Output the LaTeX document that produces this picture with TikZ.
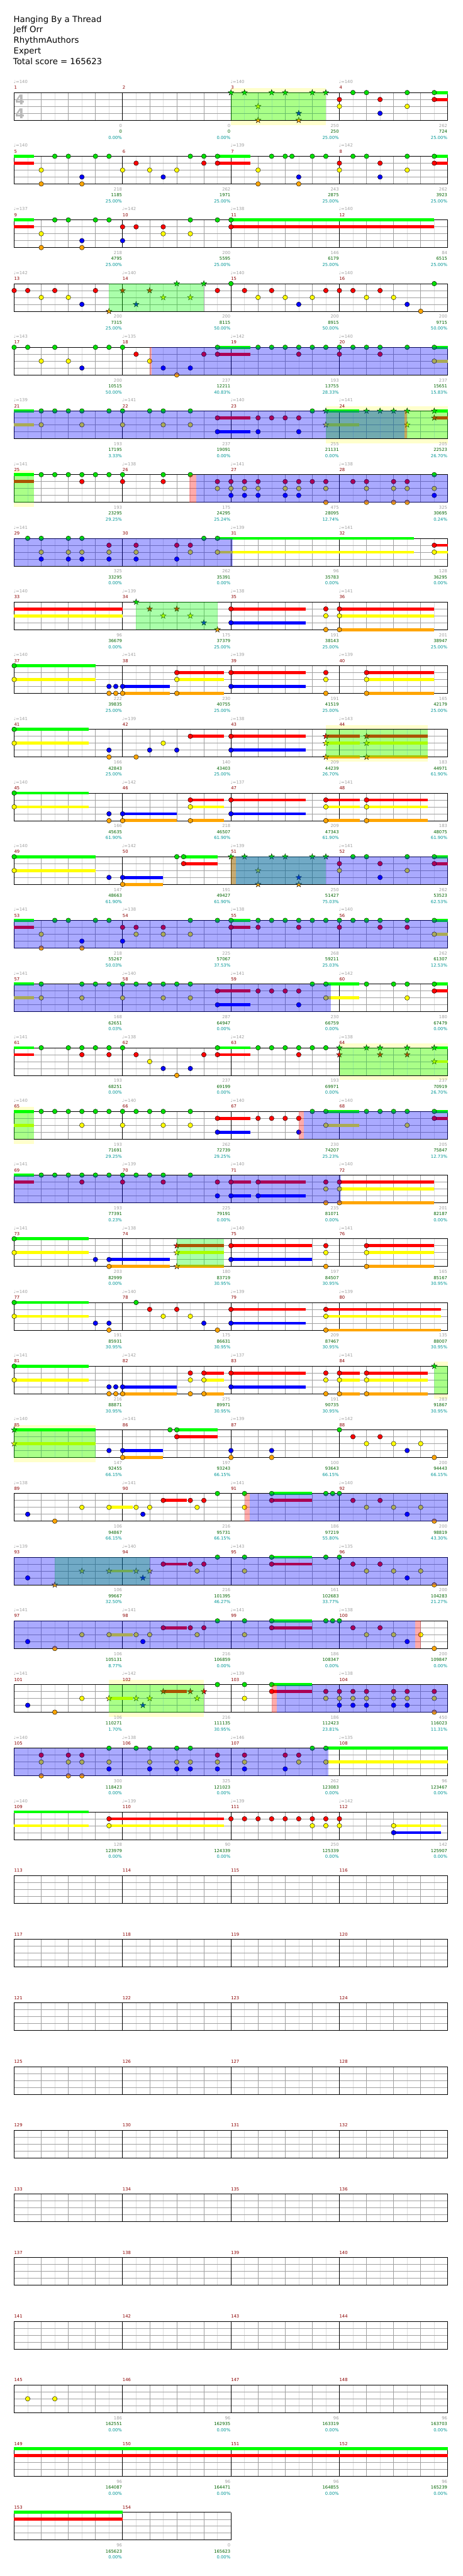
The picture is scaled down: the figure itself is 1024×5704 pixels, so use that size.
\documentclass[tikz,border=0pt]{standalone}
\usepackage{fontspec}
\setmainfont{DejaVu Sans}
\definecolor{lane0}{RGB}{0,224,0}
\definecolor{lane1}{RGB}{255,0,0}
\definecolor{lane2}{RGB}{255,255,0}
\definecolor{lane3}{RGB}{0,0,255}
\definecolor{lane4}{RGB}{255,165,0}
\definecolor{sus0}{RGB}{0,255,0}
\definecolor{sus1}{RGB}{255,0,0}
\definecolor{sus2}{RGB}{255,255,0}
\definecolor{sus3}{RGB}{0,0,255}
\definecolor{sus4}{RGB}{255,165,0}
\definecolor{lgray}{RGB}{222,222,222}
\definecolor{mgray}{RGB}{160,160,160}
\definecolor{tgray}{RGB}{160,160,160}
\definecolor{mnum}{RGB}{140,0,0}
\definecolor{sgreen}{RGB}{0,100,0}
\definecolor{spct}{RGB}{0,150,150}
\definecolor{ybg}{RGB}{255,255,204}
\definecolor{tsig}{RGB}{185,185,185}
\def\pmode{0}
\newcommand\setmp[2]{\pgfmathtruncatemacro\rw{(#1-1)/4}\pgfmathtruncatemacro\cl{#1-1-4*\rw}\pgfmathsetmacro\xx{31.3+240*\cl+15*(#2)}\pgfmathsetmacro\yt{205+141*\rw}}
\newcommand\nN[3]{\ifnum\pmode=4\relax\setmp{#1}{#2}\foreach \lane in {#3}{\filldraw[fill=lane\lane,draw=black,line width=0.6] (\xx,\yt+15.3*\lane) circle[radius=5.2];}\fi}
\newcommand\nS[3]{\ifnum\pmode=4\relax\setmp{#1}{#2}\foreach \lane in {#3}{\filldraw[fill=lane\lane,draw=black,line width=0.5,shift={(\xx,\yt+15.3*\lane)}] (0,-6.8)--(1.55,-2.1)--(6.5,-2.1)--(2.5,0.8)--(4,5.5)--(0,2.6)--(-4,5.5)--(-2.5,0.8)--(-6.5,-2.1)--(-1.55,-2.1)--cycle;}\fi}
\newcommand\nL[4]{\ifnum\pmode=3\relax\setmp{#1}{#2}\foreach \lane in {#4}{\fill[sus\lane] (\xx,\yt+15.3*\lane-3.4) rectangle ++(15*#3,6.8);}\fi}
\newcommand\ovl[6]{\ifnum\pmode=#1\relax\setmp{#3}{#4}\let\xa\xx\setmp{#5}{#6}\fill[#2,fill opacity=0.333] (\xa,\yt) rectangle (\xx,\yt+61.3);\fi}
\newcommand\oG[4]{\ovl{5}{green}{#1}{#2}{#3}{#4}}
\newcommand\oR[4]{\ovl{6}{red}{#1}{#2}{#3}{#4}}
\newcommand\oB[4]{\ovl{7}{blue}{#1}{#2}{#3}{#4}}
\newcommand\oY[4]{\ifnum\pmode=1\relax\setmp{#1}{#2}\let\xa\xx\setmp{#3}{#4}\fill[ybg] (\xa,\yt-10) rectangle (\xx,\yt+71.7);\fi}
\newcommand\meas[5]{\ifnum\pmode=2\relax\setmp{#1}{0}%
\foreach \k in {30,90,150,210}{\draw[lgray,line width=0.8] (\xx+\k,\yt) -- (\xx+\k,\yt+61.3);}%
\foreach \k in {60,120,180}{\draw[mgray,line width=0.8] (\xx+\k,\yt) -- (\xx+\k,\yt+61.3);}%
\foreach \k in {1,2,3}{\draw[mgray,line width=0.8] (\xx,\yt+15.3*\k) -- (\xx+240,\yt+15.3*\k);}%
\draw[line width=1] (\xx,\yt) -- (\xx+240,\yt) (\xx,\yt+61.3) -- (\xx+240,\yt+61.3) (\xx,\yt) -- (\xx,\yt+61.3) (\xx+240,\yt) -- (\xx+240,\yt+61.3);%
\fi
\ifnum\pmode=8\relax\setmp{#1}{0}%
\node[text=mnum,anchor=base west] (mn#1) at (\xx,\yt-7.5) {#1};%
\if\relax\detokenize{#2}\relax\else\node[text=tgray,anchor=base west] (tp#1) at (\xx-1,\yt-20.5) {♩=#2};\fi
\node[text=tgray,anchor=base east] (sa#1) at (\xx+239,\yt+76.5) {#3};%
\node[text=sgreen,anchor=base east] (sb#1) at (\xx+239,\yt+89.5) {#4};%
\node[text=spct,anchor=base east] (sc#1) at (\xx+239,\yt+103) {#5};\fi}
\newcommand\pA[1]{\nN{#1}{0}{1,2}\nN{#1}{2}{0}\nN{#1}{4}{0}\nN{#1}{6}{1,3}\nN{#1}{10}{0,2}\nN{#1}{14}{0,1}\nL{#1}{14}{2}{0,1}}
\newcommand\pB[1]{\nL{#1}{0}{2.9}{0,1}\nN{#1}{4}{2,4}\nN{#1}{6}{0}\nN{#1}{8}{0}\nN{#1}{10}{3,4}\nN{#1}{12}{0}\nN{#1}{14}{0}}
\newcommand\pS[1]{\nS{#1}{0}{0}\nS{#1}{2}{0}\nS{#1}{4}{2,4}\nS{#1}{6}{0}\nS{#1}{8}{0}\nS{#1}{10}{3,4}\nS{#1}{12}{0}\nS{#1}{14}{0}}
\newcommand\pC[1]{\nN{#1}{0}{0}\nN{#1}{2}{1}\nN{#1}{4}{2}\nN{#1}{6}{1}\nN{#1}{8}{2}\nN{#1}{10}{3}\nN{#1}{12}{2}\nN{#1}{14}{4}}
\newcommand\pD[1]{\nN{#1}{2}{2}\nN{#1}{3}{3}\nN{#1}{4}{2}\nL{#1}{6}{3.5}{1}\nN{#1}{6}{1}\nN{#1}{10}{1}\nN{#1}{11}{2}\nN{#1}{12}{1}\nN{#1}{14}{0}}
\newcommand\pE[1]{\nN{#1}{2}{3}\nN{#1}{6}{4}\nN{#1}{10}{2}\nN{#1}{14}{2}\nL{#1}{14}{3.5}{2}}
\newcommand\songdata{%
% row 0
\meas{1}{140}{0}{0}{0.00\%}\meas{2}{}{0}{0}{0.00\%}\meas{3}{140}{250}{250}{25.00\%}\meas{4}{140}{262}{724}{25.00\%}
\oY{3}{0}{3}{14}\oG{3}{0}{3}{14}\pS{3}\pA{4}
% row 1
\meas{5}{140}{218}{1185}{25.00\%}\meas{6}{}{262}{1971}{25.00\%}\meas{7}{139}{243}{2875}{25.00\%}\meas{8}{142}{262}{3923}{25.00\%}
\pB{5}
\nN{6}{0}{2}\nN{6}{2}{1}\nN{6}{4}{2}\nN{6}{6}{3}\nN{6}{8}{2}\nN{6}{10}{0}\nN{6}{12}{0,1}\nN{6}{14}{0,1}\nL{6}{14}{4.9}{0,1}
\nN{7}{4}{2,4}\nN{7}{6}{0}\nN{7}{8}{0}\nN{7}{9}{0}\nN{7}{10}{3,4}\nN{7}{12}{0}\nN{7}{14}{0}
\pA{8}
% row 2
\meas{9}{137}{218}{4795}{25.00\%}\meas{10}{142}{200}{5595}{25.00\%}\meas{11}{138}{146}{6179}{25.00\%}\meas{12}{140}{84}{6515}{25.00\%}
\pB{9}
\nN{10}{0}{1,3}\nN{10}{2}{1}\nN{10}{6}{1,2}\nN{10}{10}{0,2}\nN{10}{14}{0}
\nN{11}{0}{0,1}\nL{11}{0}{30}{0,1}
% row 3
\meas{13}{142}{200}{7315}{25.00\%}\meas{14}{140}{200}{8115}{50.00\%}\meas{15}{140}{200}{8915}{50.00\%}\meas{16}{140}{200}{9715}{50.00\%}
\oG{13}{14}{14}{12}
\nN{13}{0}{1}\nN{13}{2}{1}\nN{13}{4}{2}\nN{13}{6}{1}\nN{13}{8}{2}\nN{13}{10}{3}\nN{13}{12}{1}\nS{13}{14}{4}
\nS{14}{0}{1}\nS{14}{2}{3}\nS{14}{4}{1}\nS{14}{6}{2}\nS{14}{8}{0}\nS{14}{10}{2}\nS{14}{12}{0}\nN{14}{14}{1}
\nN{15}{0}{0}\nN{15}{2}{1}\nN{15}{4}{2}\nN{15}{6}{1}\nN{15}{8}{2}\nN{15}{10}{3}\nN{15}{12}{2}\nN{15}{14}{1}
\nN{16}{0}{1}\nN{16}{2}{1}\nN{16}{4}{2}\nN{16}{6}{1}\nN{16}{8}{2}\nN{16}{10}{3}\nN{16}{12}{4}\nN{16}{14}{0}
% row 4
\meas{17}{143}{200}{10515}{50.00\%}\meas{18}{135}{237}{12211}{40.83\%}\meas{19}{142}{193}{13755}{28.33\%}\meas{20}{140}{237}{15651}{15.83\%}
\oR{18}{4}{18}{4.25}\oB{18}{4.25}{20}{16}
\nN{17}{0}{0}\nN{17}{2}{0}\nN{17}{4}{2}\nN{17}{6}{0}\nN{17}{8}{2}\nN{17}{10}{3}\nN{17}{12}{0}\nN{17}{14}{0}
\nN{18}{0}{0}\nN{18}{2}{1}\nN{18}{4}{2}\nN{18}{6}{3}\nN{18}{8}{4}\nN{18}{10}{3}\nN{18}{12}{1}\nN{18}{14}{0,1}\nL{18}{14}{4.9}{0,1}
\nN{19}{4}{0}\nN{19}{6}{0}\nN{19}{8}{0}\nN{19}{10}{0,1}\nN{19}{12}{0}\nN{19}{14}{0}
\nN{20}{0}{0,1}\nN{20}{2}{0}\nN{20}{4}{0}\nN{20}{6}{0,1}\nN{20}{10}{0}\nN{20}{14}{0,2}\nL{20}{14}{2}{0,2}
% row 5
\meas{21}{139}{193}{17195}{3.33\%}\meas{22}{141}{237}{19091}{0.00\%}\meas{23}{140}{255}{21131}{0.00\%}\meas{24}{141}{205}{22523}{26.70\%}
\oB{21}{0}{24}{9.65}\oR{24}{9.65}{24}{10}\oG{23}{14}{24}{16}\oY{23}{14}{24}{16}
\nL{21}{0}{2.9}{0,2}\nN{21}{4}{0,2}\nN{21}{6}{0}\nN{21}{8}{0}\nN{21}{10}{0,2}\nN{21}{14}{0}
\nN{22}{0}{0,2}\nN{22}{4}{0}\nN{22}{6}{0,2}\nN{22}{10}{0,2}\nN{22}{14}{1,3}\nL{22}{14}{4.9}{1,3}
\nN{23}{4}{1,3}\nN{23}{6}{1}\nN{23}{8}{1}\nN{23}{10}{1,3}\nN{23}{12}{0}\nS{23}{14}{0,2}\nL{23}{14}{4.9}{0,2}
\nS{24}{4}{0}\nS{24}{6}{0}\nS{24}{8}{0}\nS{24}{10}{0,2}\nS{24}{14}{0,1}\nL{24}{14}{2}{0,1}
% row 6
\meas{25}{141}{193}{23295}{29.25\%}\meas{26}{138}{175}{24295}{25.24\%}\meas{27}{141}{475}{28095}{12.74\%}\meas{28}{138}{325}{30695}{0.24\%}
\oY{25}{0}{25}{2.9}\oG{25}{0}{25}{2.9}\oR{26}{9.9}{26}{10.9}\oB{26}{10.9}{28}{16}
\nL{25}{0}{2.9}{0,1}\nN{25}{4}{0}\nN{25}{6}{0}\nN{25}{8}{0}\nN{25}{10}{0,1}\nN{25}{12}{0}\nN{25}{14}{0}
\nN{26}{0}{0,1}\nN{26}{6}{0,1}\nN{26}{10}{0}\nN{26}{14}{1,2}
\nN{27}{0}{1,2,3}\nN{27}{2}{1,2,3}\nN{27}{4}{1,2,3}\nN{27}{8}{1,2,3}\nN{27}{10}{1,2,3}\nN{27}{12}{1}\nN{27}{14}{1,2,4}
\nN{28}{2}{1}\nN{28}{4}{1,2,4}\nN{28}{8}{1,2,4}\nN{28}{10}{1,2,4}\nN{28}{14}{0,2,3}
% row 7
\meas{29}{141}{325}{33295}{0.00\%}\meas{30}{}{262}{35391}{0.00\%}\meas{31}{139}{96}{35783}{0.00\%}\meas{32}{141}{128}{36295}{0.00\%}
\oB{29}{0}{31}{0.25}
\nN{29}{2}{0}\nN{29}{4}{0,2,3}\nN{29}{8}{0,2,3}\nN{29}{10}{0,2,3}\nN{29}{14}{1,2,3}
\nN{30}{2}{1,2,3}\nN{30}{8}{1,3}\nN{30}{10}{1,2}\nN{30}{12}{0}\nN{30}{14}{0,2}\nL{30}{14}{29}{0,2}
\nN{32}{14}{1,2}\nL{32}{14}{2}{1,2}
% row 8
\meas{33}{140}{96}{36679}{0.00\%}\meas{34}{139}{175}{37379}{25.00\%}\meas{35}{138}{191}{38143}{25.00\%}\meas{36}{141}{201}{38947}{25.00\%}
\nL{33}{0}{16}{1,2}
\oG{34}{2}{34}{14}
\nS{34}{2}{0}\nS{34}{4}{1}\nS{34}{6}{2}\nS{34}{8}{1}\nS{34}{10}{2}\nS{34}{12}{3}\nS{34}{14}{4}
\nN{35}{0}{1,3}\nL{35}{0}{11}{1,3}\nN{35}{14}{1,2,4}
\nN{36}{0}{1,2,4}\nL{36}{0}{14}{1,2,4}
% row 9
\meas{37}{140}{222}{39835}{25.00\%}\meas{38}{141}{230}{40755}{25.00\%}\meas{39}{139}{191}{41519}{25.00\%}\meas{40}{139}{165}{42179}{25.00\%}
\nN{37}{0}{0,2}\nL{37}{0}{12}{0,2}\nN{37}{14}{3,4}\nN{37}{15}{3,4}
\nN{38}{0}{3,4}\nL{38}{0}{7}{3,4}\nN{38}{8}{1,2,4}\nL{38}{8}{7}{1,2,4}
\nN{39}{0}{1,3}\nL{39}{0}{11}{1,3}\nN{39}{14}{1,2,4}
\nN{40}{4}{1,2,4}\nL{40}{4}{10}{1,2,4}
% row 10
\meas{41}{141}{166}{42843}{25.00\%}\meas{42}{139}{140}{43403}{25.00\%}\meas{43}{138}{209}{44239}{26.70\%}\meas{44}{143}{183}{44971}{61.90\%}
\oG{43}{14}{44}{13}\oY{43}{14}{44}{13}
\nN{41}{0}{0,2}\nL{41}{0}{11}{0,2}\nN{41}{14}{3,4}
\nN{42}{2}{4}\nN{42}{4}{3}\nN{42}{6}{2}\nN{42}{8}{3}\nN{42}{10}{1}\nL{42}{10}{5}{1}
\nN{43}{0}{1,3}\nL{43}{0}{11}{1,3}\nS{43}{14}{1,2,4}\nL{43}{14}{5}{1,2,4}
\nS{44}{4}{1,2,4}\nL{44}{4}{9}{1,2,4}
% row 11
\meas{45}{140}{166}{45635}{61.90\%}\meas{46}{142}{218}{46507}{61.90\%}\meas{47}{137}{209}{47343}{61.90\%}\meas{48}{141}{183}{48075}{61.90\%}
\nN{45}{0}{0,2}\nL{45}{0}{11}{0,2}\nN{45}{14}{3,4}
\nN{46}{0}{3,4}\nL{46}{0}{8}{3,4}\nN{46}{10}{1,2,4}\nL{46}{10}{5}{1,2,4}
\nN{47}{0}{1,3}\nL{47}{0}{11}{1,3}\nN{47}{14}{1,2,4}\nL{47}{14}{5}{1,2,4}
\nN{48}{4}{1,2,4}\nL{48}{4}{9}{1,2,4}
% row 12
\meas{49}{140}{147}{48663}{61.90\%}\meas{50}{142}{191}{49427}{61.90\%}\meas{51}{139}{250}{51427}{75.03\%}\meas{52}{141}{262}{53523}{62.53\%}
\oG{51}{0}{51}{14}\oR{51}{0}{51}{0.75}\oB{51}{0.75}{52}{16}
\nN{49}{0}{0,2}\nL{49}{0}{12}{0,2}\nN{49}{14}{3}
\nN{50}{0}{3,4}\nL{50}{0}{6}{3,4}\nN{50}{8}{0}\nN{50}{9}{0,1}\nL{50}{9}{5}{0,1}
\pS{51}\pA{52}
% row 13
\meas{53}{141}{218}{55267}{50.03\%}\meas{54}{138}{225}{57067}{37.53\%}\meas{55}{138}{268}{59211}{25.03\%}\meas{56}{140}{262}{61307}{12.53\%}
\oB{53}{0}{56}{16}
\pB{53}
\nN{54}{0}{1,3}\nN{54}{2}{1,2}\nN{54}{6}{1,2}\nN{54}{10}{0,2}\nN{54}{14}{0}
\nN{55}{0}{0,1}\nL{55}{0}{2.9}{0,1}\nN{55}{4}{0,1}\nN{55}{6}{0}\nN{55}{8}{0}\nN{55}{10}{0,1}\nN{55}{12}{0}\nN{55}{14}{0}
\nN{56}{0}{0,1}\nN{56}{2}{0}\nN{56}{4}{0}\nN{56}{6}{0,1}\nN{56}{10}{0,1}\nN{56}{14}{0,2}\nL{56}{14}{2}{0,2}
% row 14
\meas{57}{141}{168}{62651}{0.03\%}\meas{58}{140}{287}{64947}{0.00\%}\meas{59}{141}{230}{66759}{0.00\%}\meas{60}{142}{180}{67479}{0.00\%}
\oB{57}{0}{59}{14.75}
\nL{57}{0}{2.9}{0,2}\nN{57}{4}{0,2}\nN{57}{10}{0,2}\nN{57}{12}{0}\nN{57}{14}{0}
\nN{58}{0}{0,2}\nN{58}{2}{0}\nN{58}{4}{0}\nN{58}{6}{0,2}\nN{58}{8}{0}\nN{58}{10}{0,2}\nN{58}{14}{1,3}\nL{58}{14}{4.9}{1,3}
\nN{59}{4}{1}\nN{59}{6}{1}\nN{59}{8}{1}\nN{59}{10}{1,3}\nN{59}{12}{0}\nN{59}{14}{0,2}\nL{59}{14}{4.9}{0,2}
\nN{60}{4}{0}\nN{60}{8}{0}\nN{60}{10}{0,2}\nN{60}{14}{0,1}\nL{60}{14}{2}{0,1}
% row 15
\meas{61}{141}{193}{68251}{0.00\%}\meas{62}{138}{237}{69199}{0.00\%}\meas{63}{142}{193}{69971}{0.00\%}\meas{64}{138}{237}{70919}{26.70\%}
\oG{64}{0}{64}{16}\oY{64}{0}{64}{16}
\nL{61}{0}{2.9}{0,1}\nN{61}{4}{0}\nN{61}{8}{0}\nN{61}{10}{0,1}\nN{61}{12}{0}\nN{61}{14}{0,1}
\nN{62}{0}{0}\nN{62}{2}{1}\nN{62}{4}{2}\nN{62}{6}{3}\nN{62}{8}{4}\nN{62}{10}{3}\nN{62}{12}{1}\nN{62}{14}{0,1}\nL{62}{14}{4.9}{0,1}
\nN{63}{4}{0}\nN{63}{6}{0}\nN{63}{8}{0}\nN{63}{10}{0,1}\nN{63}{12}{0}\nN{63}{14}{0}
\nS{64}{0}{0,1}\nS{64}{4}{0}\nS{64}{6}{0,1}\nS{64}{10}{0,1}\nS{64}{14}{0,2}\nL{64}{14}{2}{0,2}
% row 16
\meas{65}{140}{193}{71691}{29.25\%}\meas{66}{140}{262}{72739}{29.25\%}\meas{67}{140}{230}{74207}{25.23\%}\meas{68}{140}{205}{75847}{12.73\%}
\oG{65}{0}{65}{2.9}\oY{65}{0}{65}{2.9}\oR{67}{10}{67}{10.8}\oB{67}{10.8}{68}{16}
\nL{65}{0}{2.9}{0,2}\nN{65}{4}{0}\nN{65}{6}{0}\nN{65}{8}{0}\nN{65}{10}{0,2}\nN{65}{12}{0}\nN{65}{14}{0}
\nN{66}{0}{0,2}\nN{66}{2}{0}\nN{66}{4}{0}\nN{66}{6}{0,2}\nN{66}{10}{0,2}\nN{66}{14}{1,3}\nL{66}{14}{4.9}{1,3}
\nN{67}{4}{1}\nN{67}{6}{1}\nN{67}{8}{1}\nN{67}{10}{1,3}\nN{67}{12}{0}\nN{67}{14}{0,2}\nL{67}{14}{4.9}{0,2}
\nN{68}{4}{0}\nN{68}{6}{0}\nN{68}{8}{0}\nN{68}{10}{0,2}\nN{68}{14}{0,1}\nL{68}{14}{2}{0,1}
% row 17
\meas{69}{141}{193}{77391}{0.23\%}\meas{70}{139}{225}{79191}{0.00\%}\meas{71}{140}{235}{81071}{0.00\%}\meas{72}{140}{201}{82187}{0.00\%}
\oB{69}{0}{72}{0.25}
\nL{69}{0}{2.9}{0,1}\nN{69}{4}{0}\nN{69}{6}{0}\nN{69}{8}{0}\nN{69}{10}{0,1}\nN{69}{12}{0}\nN{69}{14}{0}
\nN{70}{0}{0,1}\nN{70}{2}{0}\nN{70}{4}{0}\nN{70}{6}{0,1}\nN{70}{10}{0}\nN{70}{14}{1,3}
\nN{71}{0}{1,3}\nL{71}{0}{3}{1,3}\nN{71}{4}{1,3}\nL{71}{4}{7}{1,3}\nN{71}{14}{1,2,4}
\nN{72}{0}{1,2,4}\nL{72}{0}{14}{1,2,4}
% row 18
\meas{73}{141}{203}{82999}{0.00\%}\meas{74}{138}{180}{83719}{30.95\%}\meas{75}{140}{197}{84507}{30.95\%}\meas{76}{141}{165}{85167}{30.95\%}
\oG{74}{8}{74}{15}
\nN{73}{0}{0,2}\nL{73}{0}{11}{0,2}\nN{73}{12}{3}\nN{73}{14}{3,4}\nL{73}{14}{9}{3,4}
\nS{74}{8}{1,2,4}\nL{74}{8}{7}{1,2,4}
\nN{75}{0}{1,3}\nL{75}{0}{12}{1,3}\nN{75}{14}{1,2,4}
\nN{76}{4}{1,2,4}\nL{76}{4}{10}{1,2,4}
% row 19
\meas{77}{140}{191}{85931}{30.95\%}\meas{78}{140}{175}{86631}{30.95\%}\meas{79}{139}{209}{87467}{30.95\%}\meas{80}{139}{135}{88007}{30.95\%}
\nN{77}{0}{0,2}\nL{77}{0}{11}{0,2}\nN{77}{12}{3}\nN{77}{14}{3,4}
\nN{78}{2}{0}\nN{78}{4}{1}\nN{78}{6}{2}\nN{78}{8}{1}\nN{78}{10}{2}\nN{78}{12}{3}\nN{78}{14}{4}
\nN{79}{0}{1,3}\nL{79}{0}{11}{1,3}\nN{79}{14}{1,2,4}\nL{79}{14}{17}{1,2,4}
% row 20
\meas{81}{141}{216}{88871}{30.95\%}\meas{82}{142}{275}{89971}{30.95\%}\meas{83}{137}{191}{90735}{30.95\%}\meas{84}{141}{283}{91867}{30.95\%}
\oG{84}{14}{84}{16}\oY{84}{14}{84}{16}
\nN{81}{0}{0,2}\nL{81}{0}{11}{0,2}\nN{81}{14}{3,4}\nN{81}{15}{3,4}
\nN{82}{0}{3,4}\nL{82}{0}{8}{3,4}\nN{82}{10}{1,2,4}\nN{82}{12}{1,2,4}\nL{82}{12}{3}{1,2,4}
\nN{83}{0}{1,3}\nL{83}{0}{11}{1,3}\nN{83}{14}{1,2,4}
\nN{84}{0}{1,2,4}\nL{84}{0}{3}{1,2,4}\nN{84}{4}{1,2,4}\nL{84}{4}{9}{1,2,4}\nS{84}{14}{0}
% row 21
\meas{85}{140}{147}{92455}{66.15\%}\meas{86}{141}{197}{93243}{66.15\%}\meas{87}{139}{100}{93643}{66.15\%}\meas{88}{142}{200}{94443}{66.15\%}
\oG{85}{0}{85}{12}\oY{85}{0}{85}{12}
\nS{85}{0}{0,2}\nL{85}{0}{12}{0,2}\nN{85}{14}{3}
\nN{86}{0}{3,4}\nL{86}{0}{6}{3,4}\nN{86}{7}{0}\nN{86}{8}{0,1}\nL{86}{8}{6}{0,1}
\nN{87}{0}{3,4}\nN{87}{6}{3,4}
\pC{88}
% row 22
\meas{89}{138}{106}{94867}{66.15\%}\meas{90}{141}{216}{95731}{66.15\%}\meas{91}{141}{186}{97219}{55.80\%}\meas{92}{140}{200}{98819}{43.30\%}
\oR{91}{2}{91}{2.75}\oB{91}{2.75}{92}{16}
\pE{89}\pD{90}
\nN{91}{2}{0,2}\nN{91}{6}{0,1}\nL{91}{6}{6}{0,1}\nN{91}{14}{0}\nN{91}{15}{0}
\pC{92}
% row 23
\meas{93}{139}{106}{99667}{32.50\%}\meas{94}{140}{216}{101395}{46.27\%}\meas{95}{143}{161}{102683}{33.77\%}\meas{96}{135}{200}{104283}{21.27\%}
\oB{93}{0}{96}{16}\oG{93}{6}{94}{4}
\nN{93}{2}{3}\nS{93}{6}{4}\nS{93}{10}{2}\nS{93}{14}{2}\nL{93}{14}{3.5}{2}
\nS{94}{2}{2}\nS{94}{3}{3}\nS{94}{4}{2}\nL{94}{6}{3.5}{1}\nN{94}{6}{1}\nN{94}{10}{1}\nN{94}{11}{2}\nN{94}{12}{1}\nN{94}{14}{0}
\nN{95}{2}{0,2}\nN{95}{6}{0,1}\nL{95}{6}{6}{0,1}\nN{95}{14}{0}
\pC{96}
% row 24
\meas{97}{141}{106}{105131}{8.77\%}\meas{98}{141}{216}{106859}{0.00\%}\meas{99}{141}{186}{108347}{0.00\%}\meas{100}{138}{200}{109847}{0.00\%}
\oB{97}{0}{100}{11.2}\oR{100}{11.2}{100}{12}
\pE{97}\pD{98}
\nN{99}{2}{0,2}\nN{99}{6}{0,1}\nL{99}{6}{6}{0,1}\nN{99}{14}{0}\nN{99}{15}{0}
\pC{100}
% row 25
\meas{101}{141}{106}{110271}{1.70\%}\meas{102}{142}{216}{111135}{30.95\%}\meas{103}{139}{186}{112423}{23.81\%}\meas{104}{138}{450}{116023}{11.31\%}
\oY{101}{14}{102}{12}\oG{101}{14}{102}{12}\oR{103}{6}{103}{6.8}\oB{103}{6.8}{104}{16}
\nN{101}{2}{3}\nN{101}{6}{4}\nN{101}{10}{2}\nS{101}{14}{2}\nL{101}{14}{3.5}{2}
\nS{102}{2}{2}\nS{102}{3}{3}\nS{102}{4}{2}\nL{102}{6}{3.5}{1}\nS{102}{6}{1}\nS{102}{10}{1}\nS{102}{11}{2}\nS{102}{12}{1}\nN{102}{14}{0}
\nN{103}{2}{0,2}\nN{103}{6}{0,1}\nL{103}{6}{6}{0,1}\nN{103}{14}{1,2}
\nN{104}{0}{1,2,3}\nN{104}{2}{1,2,3}\nN{104}{4}{1,2,3}\nN{104}{8}{1,2,3}\nN{104}{10}{1,2,3}\nN{104}{14}{1,2,4}
% row 26
\meas{105}{140}{300}{118423}{0.00\%}\meas{106}{138}{325}{121023}{0.00\%}\meas{107}{146}{262}{123083}{0.00\%}\meas{108}{135}{96}{123467}{0.00\%}
\oB{105}{0}{107}{14.4}
\nN{105}{4}{1,2,4}\nN{105}{8}{1,2,4}\nN{105}{10}{1,2,4}\nN{105}{14}{0,2,3}
\nN{106}{2}{0}\nN{106}{4}{0,2,3}\nN{106}{8}{0,2,3}\nN{106}{10}{0,2,3}\nN{106}{14}{1,2,3}
\nN{107}{2}{1,2,3}\nN{107}{8}{1,3}\nN{107}{10}{1,2}\nN{107}{12}{0}\nN{107}{14}{0,2}\nL{107}{14}{18}{0,2}
% row 27
\meas{109}{140}{128}{123979}{0.00\%}\meas{110}{139}{90}{124339}{0.00\%}\meas{111}{139}{250}{125339}{0.00\%}\meas{112}{142}{142}{125907}{0.00\%}
\nL{109}{0}{11}{0,2}\nN{109}{14}{1,2}\nL{109}{14}{17}{1,2}
\nN{111}{0}{1}\nN{111}{2}{1}\nN{111}{4}{1}\nN{111}{6}{1}\nN{111}{8}{1}\nN{111}{10}{1}\nN{111}{12}{1,2}\nN{111}{14}{1,2}
\nN{112}{0}{1,2}\nN{112}{8}{2,3}\nL{112}{8}{7}{2,3}
% rows 28-35
\foreach \m in {113,...,144}{\meas{\m}{}{}{}{}}
% row 36-38
\meas{145}{}{186}{162551}{0.00\%}\meas{146}{}{96}{162935}{0.00\%}\meas{147}{}{96}{163319}{0.00\%}\meas{148}{}{96}{163703}{0.00\%}
\meas{149}{}{96}{164087}{0.00\%}\meas{150}{}{96}{164471}{0.00\%}\meas{151}{}{96}{164855}{0.00\%}\meas{152}{}{96}{165239}{0.00\%}
\meas{153}{}{96}{165623}{0.00\%}\meas{154}{}{0}{165623}{0.00\%}
\nN{145}{2}{2}\nN{145}{6}{2}
\nL{149}{0}{64}{0,1}\nL{153}{0}{16}{0,1}
}
\begin{document}
\begin{tikzpicture}[x=1pt,y=-1pt,every node/.style={inner sep=0pt,font=\fontsize{9.5}{10}\selectfont}]
\fill[white] (0,0) rectangle (1024,5704);
\useasboundingbox (0,0) rectangle (1024,5704);
\def\pmode{1}\songdata
\def\pmode{2}\songdata
\def\pmode{3}\songdata
\def\pmode{4}\songdata
\def\pmode{5}\songdata
\def\pmode{6}\songdata
\def\pmode{7}\songdata
\def\pmode{8}\songdata
\node[anchor=base west,font=\fontsize{18.5}{20}\selectfont] (t1) at (30,49) {Hanging By a Thread};
\node[anchor=base west,font=\fontsize{18.5}{20}\selectfont] (t2) at (30,72.3) {Jeff Orr};
\node[anchor=base west,font=\fontsize{18.5}{20}\selectfont] (t3) at (30,95.6) {RhythmAuthors};
\node[anchor=base west,font=\fontsize{18.5}{20}\selectfont] (t4) at (30,118.9) {Expert};
\node[anchor=base west,font=\fontsize{18.5}{20}\selectfont] (t5) at (29,142.2) {Total score = 165623};
\node[text=tsig,anchor=base west,font=\bfseries\fontsize{30}{30}\selectfont] (ts1) at (33.5,232.5) {4};
\node[text=tsig,anchor=base west,font=\bfseries\fontsize{30}{30}\selectfont] (ts2) at (33.5,262.5) {4};
\end{tikzpicture}
\end{document}
